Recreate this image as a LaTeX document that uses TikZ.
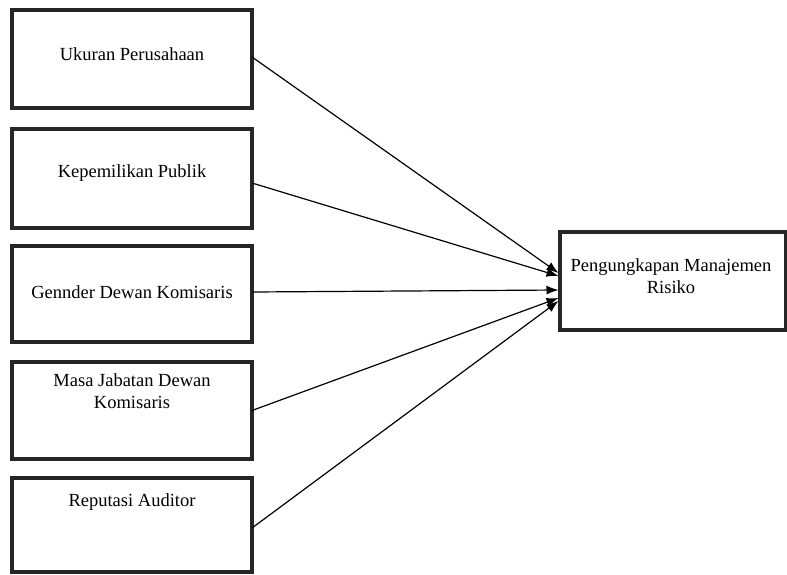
\documentclass[tikz,border=0pt]{standalone}
\usepackage{fontspec}
\setmainfont{Liberation Serif}
\usetikzlibrary{arrows.meta,calc}
\begin{document}
\begin{tikzpicture}[x=1pt,y=-1pt,
  box/.style={draw=black!85,line width=3.2pt,fill=none,inner sep=0pt,outer sep=0pt},
  lbl/.style={font=\fontsize{18.5}{22}\selectfont,text=black,align=center,inner sep=0pt},
  conn/.style={draw=black,line width=1.2pt,-{Latex[length=12pt,width=9pt]}}]
\useasboundingbox (0,0) rectangle (787,574);
% left boxes
\node[box,minimum width=240pt,minimum height=98pt] (b1) at (132,59) {};
\node[box,minimum width=240pt,minimum height=99pt] (b2) at (132,178.5) {};
\node[box,minimum width=240pt,minimum height=96pt] (b3) at (132,294) {};
\node[box,minimum width=240pt,minimum height=97pt] (b4) at (132,410.5) {};
\node[box,minimum width=240pt,minimum height=94pt] (b5) at (132,525) {};
% right box
\node[box,minimum width=226pt,minimum height=98pt] (r) at (673,281) {};
% labels
\node[lbl] (t1) at (132,54) {Ukuran Perusahaan};
\node[lbl] (t2) at (132,173) {Kepemilikan Publik};
\node[lbl] (t3) at (132,292) {Gennder Dewan Komisaris};
\node[lbl] (t4) at (132,391) {Masa Jabatan Dewan\\Komisaris};
\node[lbl] (t5) at (132,502) {Reputasi Auditor};
\node[lbl] (tr) at (671,276) {Pengungkapan Manajemen\\Risiko};
% arrow end points
\coordinate (e1) at ($(r.west)+(-1.5,-8)$);
\coordinate (e2) at ($(r.west)+(-1.5,-5)$);
\coordinate (e3) at ($(r.west)+(-1.5,9)$);
\coordinate (e4) at ($(r.west)+(-1.5,17)$);
\coordinate (e5) at ($(r.west)+(-1.5,20)$);
\coordinate (s1) at ($(b1.east)+(0,-2)$);
\coordinate (s2) at ($(b2.east)+(0,4.5)$);
\coordinate (s3) at ($(b3.east)+(0,-2)$);
\coordinate (s5) at ($(b5.east)+(0,3)$);
\draw[conn] (s1) -- (e1);
\draw[conn] (s2) -- (e2);
\draw[conn] (s3) -- (e3);
\draw[conn] (b4.east) -- (e4);
\draw[conn] (s5) -- (e5);
\end{tikzpicture}
\end{document}
